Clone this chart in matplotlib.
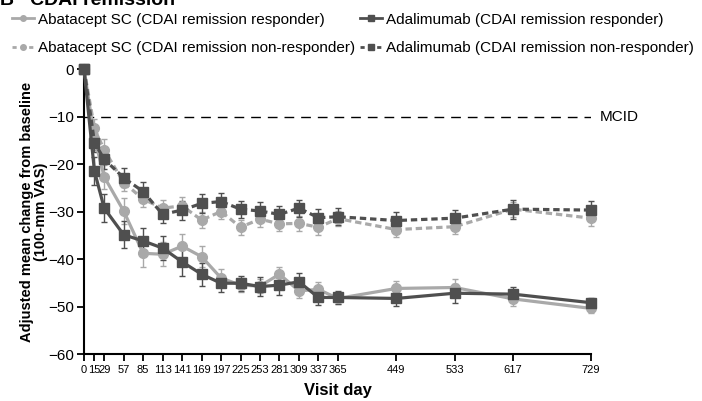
import numpy as np
import matplotlib
matplotlib.use('Agg')
import matplotlib.pyplot as plt

plt.rcParams['font.family'] = ['Liberation Sans', 'DejaVu Sans']

# visit days
days = [0, 15, 29, 57, 85, 113, 141, 169, 197, 225, 253, 281, 309, 337, 365, 449, 533, 617, 729]

# adjusted mean change from baseline (100-mm VAS)
aba_resp = [0, -14.5, -22.7, -29.9, -38.8, -39.0, -37.3, -39.5, -44.0, -45.5, -45.7, -43.2, -46.7,
            -46.4, -48.3, -46.2, -46.0, -48.4, -50.4]
aba_resp_err = [0, 2.5, 2.5, 2.8, 2.8, 2.5, 2.5, 2.2, 1.8, 1.5, 1.5, 1.6, 1.6, 1.5, 1.2, 1.6, 1.8, 1.5, 1.0]

aba_non = [0, -12.5, -17.0, -23.9, -27.4, -29.3, -28.8, -31.8, -30.0, -33.3, -31.6, -32.6, -32.5,
           -33.3, -31.5, -33.8, -33.2, -29.5, -31.4]
aba_non_err = [0, 2.0, 2.2, 1.8, 1.6, 1.8, 1.8, 1.6, 1.6, 1.6, 1.6, 1.6, 1.6, 1.6, 1.6, 1.6, 1.6, 1.6, 1.6]

ada_resp = [0, -21.5, -29.3, -34.9, -36.2, -37.7, -40.6, -43.2, -45.1, -45.1, -45.8, -45.5, -44.8,
            -48.1, -48.1, -48.3, -47.2, -47.4, -49.2]
ada_resp_err = [0, 3.0, 3.0, 2.8, 2.8, 2.6, 3.0, 2.4, 1.8, 1.6, 2.0, 2.0, 1.8, 1.6, 1.3, 1.6, 2.0, 1.6, 1.0]

ada_non = [0, -15.5, -19.0, -22.9, -25.8, -30.6, -29.7, -28.3, -27.9, -29.5, -29.9, -30.6, -29.3,
           -31.3, -31.1, -31.9, -31.4, -29.5, -29.7]
ada_non_err = [0, 2.0, 2.0, 2.0, 2.0, 1.8, 2.0, 2.0, 1.8, 1.8, 1.8, 1.8, 1.8, 1.8, 1.8, 1.8, 1.8, 2.0, 2.0]

mcid = -10

light = '#a9a9a9'
dark = '#4f4f4f'

fig = plt.figure(figsize=(7.02, 4.01), dpi=100)
ax = fig.add_axes([0.1197, 0.1172, 0.7222, 0.7107])

ax.axhline(mcid, xmin=0, xmax=1, color='black', lw=1.0, dashes=(7, 5))
ax.text(741, mcid, 'MCID', va='center', ha='left', fontsize=11)

series = [
    (aba_resp, aba_resp_err, light, 'o', '-', 'Abatacept SC (CDAI remission responder)'),
    (aba_non, aba_non_err, light, 'o', '--', 'Abatacept SC (CDAI remission non-responder)'),
    (ada_resp, ada_resp_err, dark, 's', '-', 'Adalimumab (CDAI remission responder)'),
    (ada_non, ada_non_err, dark, 's', '--', 'Adalimumab (CDAI remission non-responder)'),
]
handles = []
for vals, err, col, mk, ls, lab in series:
    ax.errorbar(days, vals, yerr=err, color=col, marker=mk, markersize=7,
                lw=2.3, capsize=2.5, elinewidth=1.0, capthick=1.0,
                linestyle=ls, dashes=(2, 1.2) if ls == '--' else None,
                clip_on=False, zorder=3)
    h, = ax.plot([], [], color=col, marker=mk, markersize=4, lw=2,
                 linestyle=ls, label=lab)
    if ls == '--':
        h.set_dashes((1.5, 1.5))
    handles.append(h)

ax.set_xlim(0, 729)
ax.set_ylim(-60, 0)
ax.set_xticks(days)
ax.set_xticklabels([str(d) for d in days], fontsize=8)
ax.set_yticks([0, -10, -20, -30, -40, -50, -60])
ax.set_yticklabels(['0', '\u221210', '\u221220', '\u221230', '\u221240', '\u221250', '\u221260'],
                   fontsize=11)
ax.tick_params(axis='both', direction='out', length=5, width=1.3, pad=2)
ax.tick_params(axis='x', pad=3)
for s in ['top', 'right']:
    ax.spines[s].set_visible(False)
for s in ['left', 'bottom']:
    ax.spines[s].set_linewidth(1.5)

ax.set_xlabel('Visit day', fontsize=12, fontweight='bold', labelpad=6)
ax.set_ylabel('Adjusted mean change from baseline\n(100-mm VAS)', fontsize=10.5,
              fontweight='bold', labelpad=0, linespacing=1.05)

fig.text(0.0, 0.988, 'B   CDAI remission', fontsize=14, fontweight='bold',
         ha='left', va='baseline')

fig.legend(handles=handles, loc='upper left', bbox_to_anchor=(0.017, 0.968), ncol=2,
           frameon=False, fontsize=11, handlelength=1.45, handletextpad=0.25,
           columnspacing=0.3, labelspacing=0.95, borderaxespad=0, borderpad=0)

fig.savefig('out.png', dpi=100)
